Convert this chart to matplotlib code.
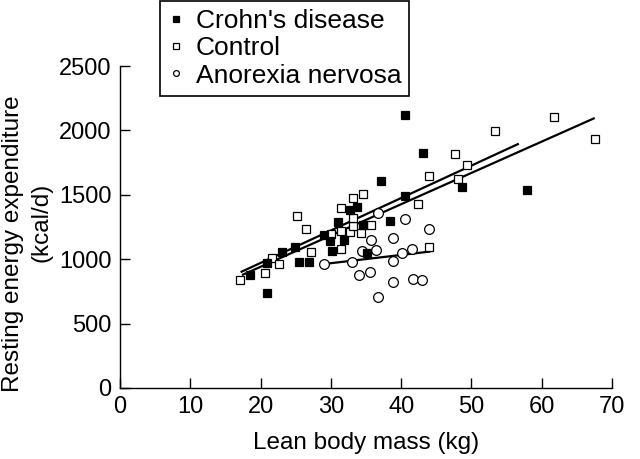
import matplotlib
matplotlib.use("Agg")
import matplotlib.pyplot as plt
import numpy as np

plt.rcParams['font.family'] = ['Liberation Sans', 'DejaVu Sans']

# Crohn's disease (filled squares)
crohn_x = [18.5, 20.9, 20.9, 23.0, 24.9, 25.4, 26.9, 29.0, 31.0, 29.9, 30.1, 31.8,
           34.5, 32.7, 33.7, 35.1, 37.1, 38.4, 40.5, 40.6, 43.1, 48.6, 57.9]
crohn_y = [877, 740, 968, 1055, 1095, 981, 978, 1188, 1286, 1142, 1066, 1149,
           1265, 1382, 1408, 1046, 1607, 1299, 1491, 2120, 1822, 1558, 1537]

# Control (open squares)
control_x = [17.1, 20.6, 21.6, 22.6, 25.2, 26.5, 27.2, 30.0, 31.4, 31.5, 32.7, 33.2,
             34.3, 35.7, 33.2, 31.5, 33.2, 34.5, 42.4, 43.9, 44.0, 47.7, 48.1, 49.4,
             53.4, 61.8, 67.6]
control_y = [838, 890, 1007, 963, 1335, 1234, 1056, 1193, 1079, 1219, 1209, 1258,
             1201, 1265, 1322, 1395, 1477, 1506, 1426, 1648, 1095, 1814, 1620, 1731,
             1998, 2101, 1933]

# Anorexia nervosa (open circles)
anorexia_x = [29.0, 33.0, 34.0, 34.4, 35.6, 35.7, 36.4, 36.7, 36.7, 38.9, 38.9, 38.9,
              40.1, 40.5, 41.5, 41.7, 43.0, 43.9]
anorexia_y = [963, 978, 877, 1066, 900, 1149, 1071, 1356, 706, 1165, 987, 825,
              1048, 1310, 1079, 848, 837, 1236]

# regression lines: (intercept, slope, x start, x end)
fit_crohn = (467, 25.2, 17.3, 56.6)
fit_control = (455, 24.3, 17.5, 67.4)
fit_anorexia = (777, 6.4, 29.0, 44.0)

fig = plt.figure(figsize=(6.4, 4.59), dpi=100)
ax = fig.add_axes([0.1875, 0.1547, 0.7688, 0.7015])

# draw fitted lines
for b, m, x0, x1 in [fit_crohn, fit_control, fit_anorexia]:
    xs = np.array([x0, x1])
    ax.plot(xs, b + m * xs, color='black', lw=1.6, zorder=2)

# draw points
ms = 6.4
ax.plot(control_x, control_y, 's', ms=ms, mfc='white', mec='black', mew=0.9,
        label='Control', zorder=3)
ax.plot(anorexia_x, anorexia_y, 'o', ms=ms + 0.6, mfc='white', mec='black', mew=0.9,
        label='Anorexia nervosa', zorder=3)
ax.plot(crohn_x, crohn_y, 's', ms=ms, mfc='black', mec='black', mew=0.9,
        label="Crohn's disease", zorder=4)

ax.set_xlim(0, 70)
ax.set_ylim(0, 2500)
ax.set_xticks(np.arange(0, 71, 10))
ax.set_yticks(np.arange(0, 2501, 500))
ax.spines['top'].set_visible(False)
ax.spines['right'].set_visible(False)
for s in ['left', 'bottom']:
    ax.spines[s].set_linewidth(1.0)
ax.tick_params(direction='in', length=7, width=1.0, labelsize=17, pad=6)

# make labels
ax.set_xlabel("Lean body mass (kg)", fontsize=17.5, labelpad=10)
# y label lines are not centred on each other in the original
fig.text(13 / 640, 1 - 244 / 459, "Resting energy expenditure", rotation=90,
         ha='center', va='center', fontsize=17.5)
fig.text(41 / 640, 1 - 222 / 459, "(kcal/d)", rotation=90,
         ha='center', va='center', fontsize=17.5)

handles, labels = ax.get_legend_handles_labels()
order = [2, 0, 1]
leg = ax.legend([handles[i] for i in order], [labels[i] for i in order],
                loc='upper left', bbox_to_anchor=(0.25, 0.998),
                bbox_transform=fig.transFigure, borderaxespad=0,
                fancybox=False, edgecolor='black', framealpha=1,
                fontsize=19, markerscale=0.6, handlelength=0.6,
                handletextpad=0.45, labelspacing=0.13, borderpad=0.3)
leg.get_frame().set_linewidth(1.2)

fig.savefig("out.png", dpi=100)
